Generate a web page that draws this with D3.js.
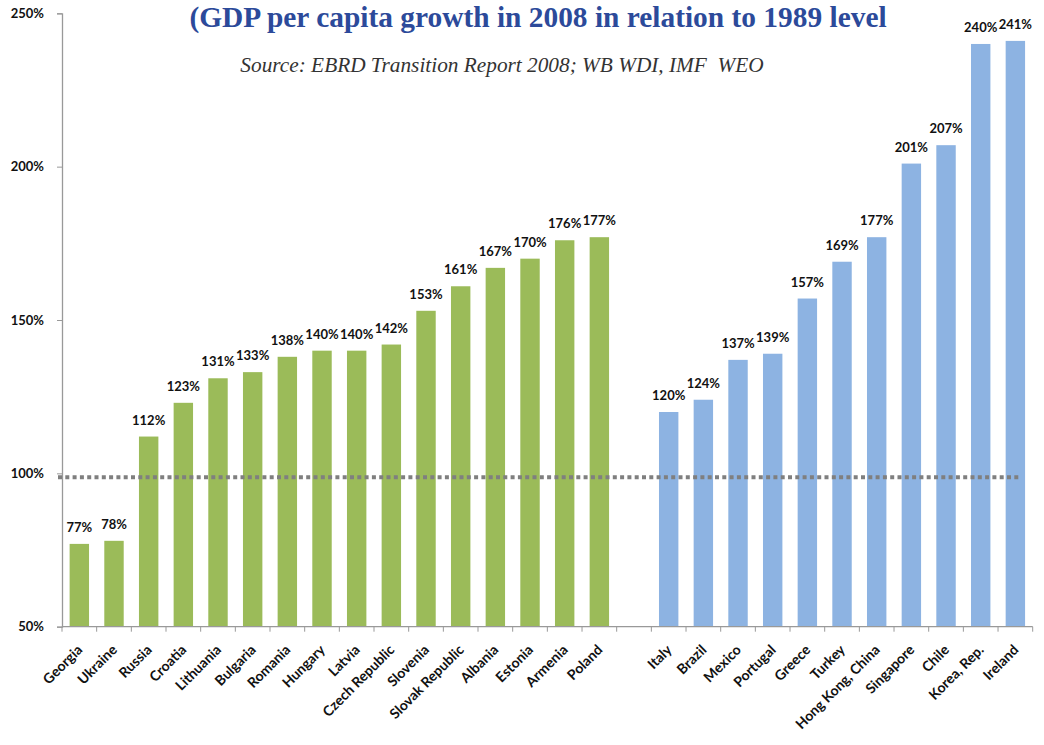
<!DOCTYPE html>
<html>
<head>
<meta charset="utf-8">
<script src="https://cdn.jsdelivr.net/npm/d3@7"></script>
<style>
  html, body { margin: 0; padding: 0; background: #fff; }
  svg { display: block; }
  .pre { white-space: pre; }
</style>
</head>
<body>
<script>
// Transition economies (green) and comparison economies (blue)
const transitionCountries = ["Georgia", "Ukraine", "Russia", "Croatia", "Lithuania", "Bulgaria", "Romania",
  "Hungary", "Latvia", "Czech Republic", "Slovenia", "Slovak Republic", "Albania", "Estonia", "Armenia", "Poland"];
const transitionValues = [77, 78, 112, 123, 131, 133, 138, 140, 140, 142, 153, 161, 167, 170, 176, 177];

const otherCountries = ["Italy", "Brazil", "Mexico", "Portugal", "Greece", "Turkey", "Hong Kong, China",
  "Singapore", "Chile", "Korea, Rep.", "Ireland"];
const otherValues = [120, 124, 137, 139, 157, 169, 177, 201, 207, 240, 241];

const yTicks = [50, 100, 150, 200, 250];
const referenceLevel = 98.7;

const titleText = "(GDP per capita growth in 2008 in relation to 1989 level";
const sourceText = "Source: EBRD Transition Report 2008; WB WDI, IMF  WEO";

const W = 1044, H = 745;
const margin = { left: 62, right: 11.3, top: 13.3, bottom: 118.3 };

const gapKey = "__gap__";
const domain = [...transitionCountries, gapKey, ...otherCountries];
const rows = [
  ...transitionCountries.map((c, i) => ({ country: c, value: transitionValues[i], group: "transition" })),
  ...otherCountries.map((c, i) => ({ country: c, value: otherValues[i], group: "other" }))
];
const colors = { transition: "#9BBB59", other: "#8DB3E2" };

const svg = d3.select("body").append("svg").attr("width", W).attr("height", H);

const x = d3.scaleBand().domain(domain)
  .range([margin.left, W - margin.right])
  .paddingInner(0.44).paddingOuter(0.22);
const y = d3.scaleLinear().domain([50, 250]).range([H - margin.bottom, margin.top]);

const labelFont = "Lato, 'Open Sans', sans-serif";

// Bars
svg.append("g").selectAll("rect").data(rows).join("rect")
  .attr("x", d => x(d.country))
  .attr("width", x.bandwidth())
  .attr("y", d => y(d.value))
  .attr("height", d => y(50) - y(d.value))
  .attr("fill", d => colors[d.group]);

// Value labels
svg.append("g").selectAll("text").data(rows).join("text")
  .attr("x", d => x(d.country) + x.bandwidth() / 2)
  .attr("y", d => y(d.value) - 12)
  .attr("text-anchor", "middle")
  .attr("font-family", labelFont)
  .attr("font-weight", "bold")
  .attr("font-size", 13)
  .attr("fill", "#111")
  .text(d => d.value + "%");

// Y axis
const yAxis = svg.append("g").attr("transform", `translate(${margin.left},0)`)
  .call(d3.axisLeft(y).tickValues(yTicks).tickFormat(d => d + "%").tickSizeOuter(0).tickSize(5).tickPadding(13));
yAxis.select(".domain").attr("stroke", "#999").attr("stroke-width", 1.3);
yAxis.selectAll(".tick line").attr("stroke", "#999");
yAxis.selectAll(".tick text")
  .attr("font-family", labelFont).attr("font-weight", "bold").attr("font-size", 13).attr("fill", "#111");

// X axis: baseline with tick marks at category boundaries
const xAxisG = svg.append("g");
const baseY = y(50);
const step = x.step();
xAxisG.append("line")
  .attr("x1", margin.left).attr("x2", W - margin.right)
  .attr("y1", baseY).attr("y2", baseY)
  .attr("stroke", "#999").attr("stroke-width", 1.3);
const boundaries = d3.range(domain.length + 1).map(i => margin.left + i * step);
xAxisG.selectAll("line.b").data(boundaries).join("line").attr("class", "b")
  .attr("x1", d => d).attr("x2", d => d)
  .attr("y1", baseY).attr("y2", baseY + 5)
  .attr("stroke", "#999");

// Category labels, rotated
xAxisG.selectAll("text").data(rows).join("text")
  .attr("transform", d => `translate(${x(d.country) + x.bandwidth() / 2 + 4},${baseY + 24}) rotate(-45)`)
  .attr("text-anchor", "end")
  .attr("font-family", labelFont)
  .attr("font-weight", "bold")
  .attr("font-size", 14)
  .attr("fill", "#111")
  .text(d => d.country);

// Reference level (dotted)
svg.append("line")
  .attr("x1", 58).attr("x2", 1021)
  .attr("y1", y(referenceLevel)).attr("y2", y(referenceLevel))
  .attr("stroke", "#7F7F7F").attr("stroke-width", 4)
  .attr("stroke-dasharray", "4 3.3");

// Title and source
svg.append("text")
  .attr("x", 538).attr("y", 27)
  .attr("text-anchor", "middle")
  .attr("font-family", "'Liberation Serif', 'Times New Roman', serif")
  .attr("font-weight", "bold")
  .attr("font-size", 29.4)
  .attr("fill", "#2C4A9A")
  .text(titleText);

svg.append("text")
  .attr("class", "pre")
  .attr("x", 502).attr("y", 72)
  .attr("text-anchor", "middle")
  .attr("font-family", "'Liberation Serif', 'Times New Roman', serif")
  .attr("font-style", "italic")
  .attr("font-size", 21.3)
  .attr("fill", "#333")
  .text(sourceText);
</script>
</body>
</html>
